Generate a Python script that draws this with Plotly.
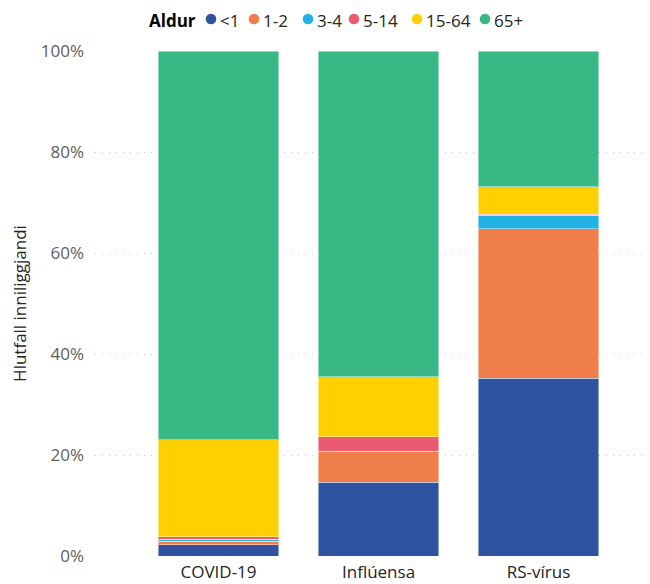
import plotly.graph_objects as go

categories = ["COVID-19", "Inflúensa", "RS-vírus"]
age_groups = ["<1", "1-2", "3-4", "5-14", "15-64", "65+"]

# share of inpatients per age group (%), one list per age group
share_lt1 = [2.2, 14.65, 35.2]
share_1_2 = [0.7, 6.0, 29.6]
share_3_4 = [0.45, 0.1, 2.7]
share_5_14 = [0.45, 2.85, 0.2]
share_15_64 = [19.2, 11.9, 5.4]
share_65 = [77.0, 64.5, 26.9]

series = [share_lt1, share_1_2, share_3_4, share_5_14, share_15_64, share_65]

COLORS = ["#2F53A0", "#EF7E4B", "#22B2E6", "#EA5B6E", "#FFCF00", "#37B884"]
FONT = "Segoe UI, Open Sans, sans-serif"

# the page body has an 8px margin, so the figure is drawn 8px smaller
OFF = 8
FW, FH = 650 - OFF, 584 - OFF
# plot area in page pixels
L, R, T, B = 95, 643, 51, 556
W, H = R - L, B - T

fig = go.Figure()

for name, vals, col in zip(age_groups, series, COLORS):
    fig.add_trace(go.Bar(
        x=categories, y=vals, name=name, showlegend=False,
        marker=dict(color=col, line=dict(color="rgba(255,255,255,0.45)", width=1)),
    ))


def px(x):
    return (x - L) / W


def py(y):
    return (B - y) / H


# legend row drawn as dots + text, like the Power BI header
text_y, dot_y = 20.5, 19
fig.add_annotation(x=px(147), y=py(text_y), xref="paper", yref="paper",
                   text="<b>Aldur</b>", showarrow=False, xanchor="left", yanchor="middle",
                   font=dict(color="#000000", size=17))
dot_x = [211, 254, 308, 354, 417, 485]
for name, col, dx in zip(age_groups, COLORS, dot_x):
    fig.add_shape(type="circle", xref="paper", yref="paper",
                  x0=px(dx - 5.3), x1=px(dx + 5.3), y0=py(dot_y + 5.3), y1=py(dot_y - 5.3),
                  fillcolor=col, line=dict(width=0))
    fig.add_annotation(x=px(dx + 7), y=py(text_y), xref="paper", yref="paper",
                       text=name, showarrow=False, xanchor="left", yanchor="middle",
                       font=dict(color="#252423", size=17))

fig.update_layout(
    width=FW, height=FH,
    barmode="stack", bargap=0.245,
    plot_bgcolor="white", paper_bgcolor="white",
    margin=dict(l=L - OFF, r=650 - R, t=T - OFF, b=584 - B, autoexpand=False),
    font=dict(family=FONT, size=17, color="#605E5C"),
    showlegend=False,
)

fig.update_xaxes(
    range=[-0.772, 2.653], showgrid=False, showline=False, ticks="",
    tickfont=dict(color="#252423", size=17), ticklabelstandoff=4, automargin=False,
)
fig.update_yaxes(
    range=[0, 100], ticksuffix="%", dtick=20,
    showgrid=True, gridcolor="#C8C8C8", griddash="1px,6px", gridwidth=1,
    zeroline=False, showline=False, ticklabelstandoff=10, automargin=False,
    title=dict(text="Hlutfall inniliggjandi", font=dict(color="#252423", size=17), standoff=9),
)

fig.write_html("out.html")
